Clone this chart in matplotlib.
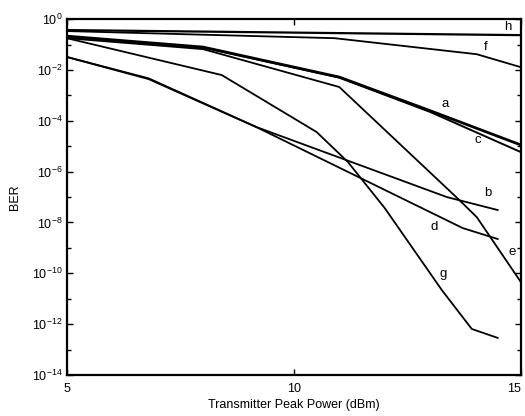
import numpy as np
import matplotlib
matplotlib.use("Agg")
import matplotlib.pyplot as plt
from matplotlib.ticker import FixedLocator, NullFormatter

plt.rcParams['font.family'] = ['Liberation Sans', 'DejaVu Sans']

# curves: power (dBm) and log10(BER)
a_x = [5, 8, 11, 13, 15]
a_y = [-0.67, -1.10, -2.28, -3.60, -4.95]
c_x = [5, 8, 11, 13, 15]
c_y = [-0.70, -1.12, -2.30, -3.65, -5.23]
e_x = [5, 8, 11, 13.6, 14.03, 15]
e_y = [-0.75, -1.18, -2.67, -7.04, -7.79, -10.34]
g_x = [5, 8.41, 10.5, 11.19, 12.0, 13.26, 13.92, 14.49]
g_y = [-0.75, -2.2, -4.44, -5.62, -7.43, -10.66, -12.19, -12.54]
b_x = [5, 6.8, 9.18, 13.37, 14.49]
b_y = [-1.49, -2.33, -4.25, -7.0, -7.51]
d_x = [5, 6.8, 9.2, 13.72, 14.49]
d_y = [-1.49, -2.36, -4.27, -8.22, -8.65]
f_x = [5, 10.9, 14.03, 15]
f_y = [-0.47, -0.75, -1.38, -1.89]
h_x = [5, 15]
h_y = [-0.43, -0.63]

labels = ['h', 'f', 'a', 'c', 'b', 'd', 'e', 'g']
label_x = [14.71, 14.23, 13.33, 14.05, 14.27, 13.1, 14.8, 13.28]
label_y = [-0.31, -1.1, -3.34, -4.76, -6.84, -8.18, -9.16, -10.03]

fig = plt.figure(figsize=(5.25, 4.16), dpi=100)
ax = fig.add_axes([0.1276, 0.0986, 0.8644, 0.8554])

curves = [(a_x, a_y, 2.0), (c_x, c_y, 1.4), (e_x, e_y, 1.3), (g_x, g_y, 1.3),
          (b_x, b_y, 1.3), (d_x, d_y, 1.3), (f_x, f_y, 1.3), (h_x, h_y, 1.6)]
for xs, ys, lw in curves:
    ax.plot(xs, 10.0 ** np.array(ys), color='black', lw=lw)

for lab, lx, ly in zip(labels, label_x, label_y):
    ax.text(lx, 10.0 ** ly, lab, fontsize=9.5, ha='center', va='center')

ax.set_yscale('log')
ax.set_xlim(5, 15)
ax.set_ylim(1e-14, 1)
ax.set_xticks([5, 10, 15])
ax.yaxis.set_major_locator(FixedLocator([10.0 ** k for k in range(-14, 1, 2)]))
ax.yaxis.set_minor_locator(FixedLocator([10.0 ** k for k in range(-13, 0, 2)]))
ax.yaxis.set_minor_formatter(NullFormatter())
ax.tick_params(which='both', direction='in', top=True, right=True, labelsize=9)
ax.tick_params(axis='x', pad=6)
ax.tick_params(axis='y', pad=3)
ax.tick_params(which='major', length=4, width=1)
ax.tick_params(which='minor', length=3, width=1)
ax.get_xticklabels()[-1].set_horizontalalignment('right')
for s in ax.spines.values():
    s.set_linewidth(1.6)

ax.set_xlabel('Transmitter Peak Power (dBm)', fontsize=9, labelpad=3)
ax.set_ylabel('BER', fontsize=9, labelpad=8)

fig.savefig('out.png', dpi=100)
